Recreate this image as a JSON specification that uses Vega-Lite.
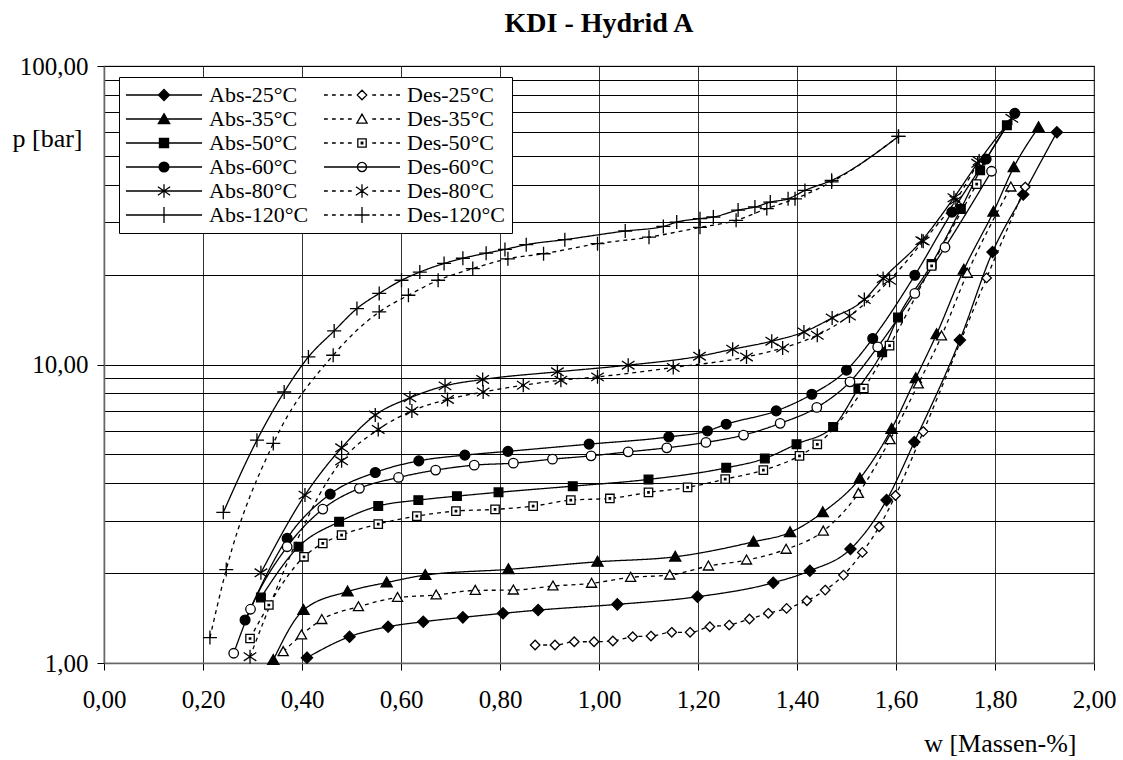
{
"$schema": "https://vega.github.io/schema/vega-lite/v6.json",
"width": 990, "height": 597,
"autosize": {"type": "none"},
"padding": {"left": 104, "top": 66, "right": 29, "bottom": 97},
"title": {"text": "KDI - Hydrid A", "fontSize": 28, "fontWeight": "bold", "font": "Liberation Serif", "frame": "group", "anchor": "middle", "offset": 16, "color": "#000"},
"datasets": {"d": [
{"s":"Abs-25°C","w":0.410,"p":1.042},{"s":"Abs-25°C","w":0.496,"p":1.225},{"s":"Abs-25°C","w":0.574,"p":1.323},{"s":"Abs-25°C","w":0.645,"p":1.375},{"s":"Abs-25°C","w":0.725,"p":1.422},{"s":"Abs-25°C","w":0.806,"p":1.467},{"s":"Abs-25°C","w":0.877,"p":1.504},{"s":"Abs-25°C","w":1.037,"p":1.572},{"s":"Abs-25°C","w":1.199,"p":1.667},{"s":"Abs-25°C","w":1.352,"p":1.857},{"s":"Abs-25°C","w":1.426,"p":2.037},{"s":"Abs-25°C","w":1.508,"p":2.408},{"s":"Abs-25°C","w":1.581,"p":3.513},{"s":"Abs-25°C","w":1.637,"p":5.50},{"s":"Abs-25°C","w":1.729,"p":12.07},{"s":"Abs-25°C","w":1.795,"p":23.8},{"s":"Abs-25°C","w":1.857,"p":37.1},{"s":"Abs-25°C","w":1.925,"p":60.0},
{"s":"Des-25°C","w":0.871,"p":1.149},{"s":"Des-25°C","w":0.911,"p":1.149},{"s":"Des-25°C","w":0.950,"p":1.178},{"s":"Des-25°C","w":0.990,"p":1.178},{"s":"Des-25°C","w":1.028,"p":1.185},{"s":"Des-25°C","w":1.068,"p":1.225},{"s":"Des-25°C","w":1.105,"p":1.231},{"s":"Des-25°C","w":1.147,"p":1.267},{"s":"Des-25°C","w":1.184,"p":1.267},{"s":"Des-25°C","w":1.224,"p":1.323},{"s":"Des-25°C","w":1.263,"p":1.340},{"s":"Des-25°C","w":1.304,"p":1.404},{"s":"Des-25°C","w":1.342,"p":1.467},{"s":"Des-25°C","w":1.379,"p":1.524},{"s":"Des-25°C","w":1.420,"p":1.617},{"s":"Des-25°C","w":1.457,"p":1.755},{"s":"Des-25°C","w":1.494,"p":1.970},{"s":"Des-25°C","w":1.532,"p":2.347},{"s":"Des-25°C","w":1.566,"p":2.86},{"s":"Des-25°C","w":1.599,"p":3.64},{"s":"Des-25°C","w":1.655,"p":5.96},{"s":"Des-25°C","w":1.783,"p":19.5},{"s":"Des-25°C","w":1.861,"p":39.3},
{"s":"Abs-35°C","w":0.342,"p":1.023},{"s":"Abs-35°C","w":0.403,"p":1.504},{"s":"Abs-35°C","w":0.492,"p":1.735},{"s":"Abs-35°C","w":0.571,"p":1.860},{"s":"Abs-35°C","w":0.649,"p":1.970},{"s":"Abs-35°C","w":0.817,"p":2.059},{"s":"Abs-35°C","w":0.997,"p":2.183},{"s":"Abs-35°C","w":1.154,"p":2.269},{"s":"Abs-35°C","w":1.312,"p":2.547},{"s":"Abs-35°C","w":1.386,"p":2.739},{"s":"Abs-35°C","w":1.452,"p":3.196},{"s":"Abs-35°C","w":1.527,"p":4.153},{"s":"Abs-35°C","w":1.591,"p":6.085},{"s":"Abs-35°C","w":1.640,"p":9.00},{"s":"Abs-35°C","w":1.682,"p":12.63},{"s":"Abs-35°C","w":1.737,"p":20.78},{"s":"Abs-35°C","w":1.797,"p":32.5},{"s":"Abs-35°C","w":1.838,"p":45.8},{"s":"Abs-35°C","w":1.888,"p":62.3},
{"s":"Des-35°C","w":0.362,"p":1.091},{"s":"Des-35°C","w":0.399,"p":1.241},{"s":"Des-35°C","w":0.440,"p":1.398},{"s":"Des-35°C","w":0.514,"p":1.543},{"s":"Des-35°C","w":0.593,"p":1.657},{"s":"Des-35°C","w":0.671,"p":1.689},{"s":"Des-35°C","w":0.750,"p":1.751},{"s":"Des-35°C","w":0.827,"p":1.755},{"s":"Des-35°C","w":0.907,"p":1.811},{"s":"Des-35°C","w":0.985,"p":1.849},{"s":"Des-35°C","w":1.064,"p":1.936},{"s":"Des-35°C","w":1.143,"p":1.970},{"s":"Des-35°C","w":1.221,"p":2.112},{"s":"Des-35°C","w":1.298,"p":2.212},{"s":"Des-35°C","w":1.378,"p":2.403},{"s":"Des-35°C","w":1.453,"p":2.766},{"s":"Des-35°C","w":1.524,"p":3.70},{"s":"Des-35°C","w":1.588,"p":5.60},{"s":"Des-35°C","w":1.645,"p":8.60},{"s":"Des-35°C","w":1.692,"p":12.46},{"s":"Des-35°C","w":1.744,"p":20.2},{"s":"Des-35°C","w":1.832,"p":39.3},
{"s":"Abs-50°C","w":0.317,"p":1.657},{"s":"Abs-50°C","w":0.393,"p":2.452},{"s":"Abs-50°C","w":0.475,"p":2.972},{"s":"Abs-50°C","w":0.554,"p":3.355},{"s":"Abs-50°C","w":0.635,"p":3.513},{"s":"Abs-50°C","w":0.713,"p":3.623},{"s":"Abs-50°C","w":0.797,"p":3.731},{"s":"Abs-50°C","w":0.947,"p":3.913},{"s":"Abs-50°C","w":1.100,"p":4.121},{"s":"Abs-50°C","w":1.257,"p":4.506},{"s":"Abs-50°C","w":1.335,"p":4.845},{"s":"Abs-50°C","w":1.399,"p":5.41},{"s":"Abs-50°C","w":1.473,"p":6.18},{"s":"Abs-50°C","w":1.524,"p":8.31},{"s":"Abs-50°C","w":1.572,"p":11.0},{"s":"Abs-50°C","w":1.604,"p":14.37},{"s":"Abs-50°C","w":1.672,"p":21.7},{"s":"Abs-50°C","w":1.731,"p":33.2},{"s":"Abs-50°C","w":1.770,"p":44.7},{"s":"Abs-50°C","w":1.824,"p":63.3},
{"s":"Des-50°C","w":0.295,"p":1.208},{"s":"Des-50°C","w":0.333,"p":1.564},{"s":"Des-50°C","w":0.404,"p":2.269},{"s":"Des-50°C","w":0.442,"p":2.515},{"s":"Des-50°C","w":0.480,"p":2.682},{"s":"Des-50°C","w":0.554,"p":2.920},{"s":"Des-50°C","w":0.632,"p":3.105},{"s":"Des-50°C","w":0.711,"p":3.228},{"s":"Des-50°C","w":0.790,"p":3.270},{"s":"Des-50°C","w":0.867,"p":3.355},{"s":"Des-50°C","w":0.943,"p":3.513},{"s":"Des-50°C","w":1.022,"p":3.559},{"s":"Des-50°C","w":1.100,"p":3.728},{"s":"Des-50°C","w":1.179,"p":3.875},{"s":"Des-50°C","w":1.255,"p":4.130},{"s":"Des-50°C","w":1.332,"p":4.428},{"s":"Des-50°C","w":1.405,"p":4.943},{"s":"Des-50°C","w":1.441,"p":5.40},{"s":"Des-50°C","w":1.535,"p":8.31},{"s":"Des-50°C","w":1.587,"p":11.57},{"s":"Des-50°C","w":1.672,"p":21.4},{"s":"Des-50°C","w":1.763,"p":40.2},
{"s":"Abs-60°C","w":0.285,"p":1.393},{"s":"Abs-60°C","w":0.370,"p":2.615},{"s":"Abs-60°C","w":0.457,"p":3.680},{"s":"Abs-60°C","w":0.548,"p":4.348},{"s":"Abs-60°C","w":0.636,"p":4.756},{"s":"Abs-60°C","w":0.729,"p":4.970},{"s":"Abs-60°C","w":0.816,"p":5.118},{"s":"Abs-60°C","w":0.980,"p":5.41},{"s":"Abs-60°C","w":1.141,"p":5.72},{"s":"Abs-60°C","w":1.219,"p":5.99},{"s":"Abs-60°C","w":1.257,"p":6.31},{"s":"Abs-60°C","w":1.358,"p":6.99},{"s":"Abs-60°C","w":1.430,"p":7.95},{"s":"Abs-60°C","w":1.500,"p":9.57},{"s":"Abs-60°C","w":1.553,"p":12.22},{"s":"Abs-60°C","w":1.638,"p":19.9},{"s":"Abs-60°C","w":1.713,"p":32.4},{"s":"Abs-60°C","w":1.782,"p":48.8},{"s":"Abs-60°C","w":1.840,"p":69.4},
{"s":"Des-60°C","w":0.262,"p":1.078},{"s":"Des-60°C","w":0.296,"p":1.514},{"s":"Des-60°C","w":0.370,"p":2.452},{"s":"Des-60°C","w":0.442,"p":3.278},{"s":"Des-60°C","w":0.516,"p":3.846},{"s":"Des-60°C","w":0.595,"p":4.184},{"s":"Des-60°C","w":0.670,"p":4.428},{"s":"Des-60°C","w":0.748,"p":4.601},{"s":"Des-60°C","w":0.827,"p":4.673},{"s":"Des-60°C","w":0.906,"p":4.819},{"s":"Des-60°C","w":0.984,"p":4.943},{"s":"Des-60°C","w":1.059,"p":5.098},{"s":"Des-60°C","w":1.137,"p":5.258},{"s":"Des-60°C","w":1.216,"p":5.482},{"s":"Des-60°C","w":1.292,"p":5.80},{"s":"Des-60°C","w":1.366,"p":6.35},{"s":"Des-60°C","w":1.440,"p":7.18},{"s":"Des-60°C","w":1.507,"p":8.75},{"s":"Des-60°C","w":1.563,"p":11.45},{"s":"Des-60°C","w":1.638,"p":17.3},{"s":"Des-60°C","w":1.699,"p":24.7},{"s":"Des-60°C","w":1.793,"p":44.4},
{"s":"Abs-80°C","w":0.317,"p":2.005},{"s":"Abs-80°C","w":0.406,"p":3.651},{"s":"Abs-80°C","w":0.480,"p":5.258},{"s":"Abs-80°C","w":0.548,"p":6.77},{"s":"Abs-80°C","w":0.618,"p":7.73},{"s":"Abs-80°C","w":0.689,"p":8.48},{"s":"Abs-80°C","w":0.765,"p":8.91},{"s":"Abs-80°C","w":0.916,"p":9.45},{"s":"Abs-80°C","w":1.059,"p":9.95},{"s":"Abs-80°C","w":1.203,"p":10.66},{"s":"Abs-80°C","w":1.270,"p":11.25},{"s":"Abs-80°C","w":1.349,"p":11.97},{"s":"Abs-80°C","w":1.414,"p":12.86},{"s":"Abs-80°C","w":1.471,"p":14.32},{"s":"Abs-80°C","w":1.536,"p":16.5},{"s":"Abs-80°C","w":1.574,"p":19.4},{"s":"Abs-80°C","w":1.652,"p":26.0},{"s":"Abs-80°C","w":1.717,"p":36.2},{"s":"Abs-80°C","w":1.768,"p":48.1},{"s":"Abs-80°C","w":1.834,"p":66.8},
{"s":"Des-80°C","w":0.295,"p":1.05},{"s":"Des-80°C","w":0.480,"p":4.756},{"s":"Des-80°C","w":0.554,"p":6.06},{"s":"Des-80°C","w":0.622,"p":6.99},{"s":"Des-80°C","w":0.694,"p":7.64},{"s":"Des-80°C","w":0.766,"p":8.09},{"s":"Des-80°C","w":0.847,"p":8.52},{"s":"Des-80°C","w":0.923,"p":8.86},{"s":"Des-80°C","w":0.997,"p":9.09},{"s":"Des-80°C","w":1.150,"p":9.77},{"s":"Des-80°C","w":1.298,"p":10.6},{"s":"Des-80°C","w":1.371,"p":11.36},{"s":"Des-80°C","w":1.441,"p":12.53},{"s":"Des-80°C","w":1.506,"p":14.54},{"s":"Des-80°C","w":1.587,"p":19.15},{"s":"Des-80°C","w":1.655,"p":25.9},{"s":"Des-80°C","w":1.721,"p":35.5},{"s":"Des-80°C","w":1.765,"p":47.2},
{"s":"Abs-120°C","w":0.241,"p":3.196},{"s":"Abs-120°C","w":0.309,"p":5.58},{"s":"Abs-120°C","w":0.364,"p":8.09},{"s":"Abs-120°C","w":0.413,"p":10.6},{"s":"Abs-120°C","w":0.465,"p":12.96},{"s":"Abs-120°C","w":0.511,"p":15.4},{"s":"Abs-120°C","w":0.556,"p":17.3},{"s":"Abs-120°C","w":0.601,"p":19.15},{"s":"Abs-120°C","w":0.638,"p":20.4},{"s":"Abs-120°C","w":0.687,"p":21.8},{"s":"Abs-120°C","w":0.725,"p":22.7},{"s":"Abs-120°C","w":0.772,"p":23.6},{"s":"Abs-120°C","w":0.810,"p":24.3},{"s":"Abs-120°C","w":0.853,"p":25.2},{"s":"Abs-120°C","w":0.931,"p":26.2},{"s":"Abs-120°C","w":1.053,"p":28.0},{"s":"Abs-120°C","w":1.130,"p":29.0},{"s":"Abs-120°C","w":1.157,"p":30.0},{"s":"Abs-120°C","w":1.204,"p":30.8},{"s":"Abs-120°C","w":1.231,"p":31.2},{"s":"Abs-120°C","w":1.281,"p":32.9},{"s":"Abs-120°C","w":1.315,"p":33.7},{"s":"Abs-120°C","w":1.346,"p":35.0},{"s":"Abs-120°C","w":1.382,"p":35.9},{"s":"Abs-120°C","w":1.416,"p":38.3},{"s":"Abs-120°C","w":1.470,"p":41.4},{"s":"Abs-120°C","w":1.605,"p":58.1},
{"s":"Des-120°C","w":0.214,"p":1.217},{"s":"Des-120°C","w":0.247,"p":2.056},{"s":"Des-120°C","w":0.342,"p":5.44},{"s":"Des-120°C","w":0.463,"p":10.74},{"s":"Des-120°C","w":0.556,"p":15.0},{"s":"Des-120°C","w":0.615,"p":17.06},{"s":"Des-120°C","w":0.675,"p":19.15},{"s":"Des-120°C","w":0.745,"p":20.96},{"s":"Des-120°C","w":0.816,"p":22.6},{"s":"Des-120°C","w":0.888,"p":23.5},{"s":"Des-120°C","w":0.997,"p":25.4},{"s":"Des-120°C","w":1.101,"p":26.7},{"s":"Des-120°C","w":1.204,"p":28.8},{"s":"Des-120°C","w":1.277,"p":30.4},{"s":"Des-120°C","w":1.339,"p":33.3},{"s":"Des-120°C","w":1.396,"p":35.9},{"s":"Des-120°C","w":1.470,"p":40.9},{"s":"Des-120°C","w":1.605,"p":58.1}
]},
"data": {"name": "d"},
"encoding": {
  "x": {"field": "w", "type": "quantitative",
    "scale": {"domain": [0, 2], "nice": false, "zero": false},
    "axis": {"values": [0, 0.2, 0.4, 0.6, 0.8, 1.0, 1.2, 1.4, 1.6, 1.8, 2.0],
      "labelExpr": "replace(format(datum.value, '.2f'), '.', ',')",
      "title": "w [Massen-%]", "titleAlign": "right", "titleAnchor": "end", "titleX": 972, "titleY": 88, "titleBaseline": "alphabetic",
      "tickSize": 7, "labelPadding": 17, "grid": true, "gridColor": "#333", "labelFlush": false, "labelOverlap": false}},
  "y": {"field": "p", "type": "quantitative",
    "scale": {"type": "log", "domain": [1, 100], "nice": false},
    "axis": {"values": [1, 2, 3, 4, 5, 6, 7, 8, 9, 10, 20, 30, 40, 50, 60, 70, 80, 90, 100],
      "labelExpr": "(datum.value == 1 || datum.value == 10 || datum.value == 100) ? replace(format(datum.value, '.2f'), '.', ',') : ''",
      "tickOpacity": {"condition": {"test": "datum.value == 1 || datum.value == 10 || datum.value == 100", "value": 1}, "value": 0},
      "title": "p [bar]", "titleAngle": 0, "titleAlign": "left", "titleBaseline": "middle", "titleX": -92, "titleY": 72,
      "tickSize": 7, "labelPadding": 9, "grid": true, "gridColor": "#000", "labelFlush": false, "labelOverlap": false}}
},
"layer": [
  {"mark": {"type": "line", "interpolate": "monotone", "stroke": "#000", "strokeWidth": 1.3},
   "encoding": {
     "strokeDash": {"field": "s", "type": "nominal", "legend": null,
       "scale": {"domain": ["Abs-25°C","Abs-35°C","Abs-50°C","Abs-60°C","Abs-80°C","Abs-120°C","Des-25°C","Des-35°C","Des-50°C","Des-60°C","Des-80°C","Des-120°C"],
                 "range": [[1,0],[1,0],[1,0],[1,0],[1,0],[1,0],[4,4],[4,4],[4,4],[1,0],[4,4],[4,4]]}}}},
  {"mark": {"type": "point", "stroke": "#000", "strokeWidth": 1.3, "size": 196, "opacity": 1, "fillOpacity": 1},
   "encoding": {
     "shape": {"field": "s", "type": "nominal", "legend": null,
       "scale": {"domain": ["Abs-25°C","Abs-35°C","Abs-50°C","Abs-60°C","Abs-80°C","Abs-120°C","Des-25°C","Des-35°C","Des-50°C","Des-60°C","Des-80°C","Des-120°C"],
                 "range": ["M0,-0.8L0.8,0L0,0.8L-0.8,0Z",
                           "M0,-0.78L0.8,0.62L-0.8,0.62Z",
                           "M-0.62,-0.62H0.62V0.62H-0.62Z",
                           "M0.7,0A0.7,0.7,0,1,1,-0.7,0A0.7,0.7,0,1,1,0.7,0Z",
                           "M0,-1V1M-0.9,-0.6L0.9,0.6M-0.9,0.6L0.9,-0.6",
                           "M-1,0H1M0,-1V1",
                           "M0,-0.68L0.68,0L0,0.68L-0.68,0Z",
                           "M0,-0.72L0.72,0.56L-0.72,0.56Z",
                           "M-0.6,-0.6H0.6V0.6H-0.6ZM-0.1,-0.1H0.1V0.1H-0.1Z",
                           "M0.68,0A0.68,0.68,0,1,1,-0.68,0A0.68,0.68,0,1,1,0.68,0Z",
                           "M0,-1V1M-0.9,-0.6L0.9,0.6M-0.9,0.6L0.9,-0.6",
                           "M-1,0H1M0,-1V1"]}},
     "fill": {"field": "s", "type": "nominal", "legend": null,
       "scale": {"domain": ["Abs-25°C","Abs-35°C","Abs-50°C","Abs-60°C","Abs-80°C","Abs-120°C","Des-25°C","Des-35°C","Des-50°C","Des-60°C","Des-80°C","Des-120°C"],
                 "range": ["#000","#000","#000","#000","#fff","#fff","#fff","#fff","#fff","#fff","#fff","#fff"]}}}},
  {"mark": {"type": "point", "stroke": "#000", "strokeWidth": 1.3, "opacity": 0},
   "encoding": {
     "shape": {"field": "s", "type": "nominal",
       "scale": {"domain": ["Abs-25°C","Abs-35°C","Abs-50°C","Abs-60°C","Abs-80°C","Abs-120°C","Des-25°C","Des-35°C","Des-50°C","Des-60°C","Des-80°C","Des-120°C"],
                 "range": ["M-1,0H1M0,-0.145L0.145,0L0,0.145L-0.145,0Z",
                           "M-1,0H1M0,-0.14L0.15,0.12L-0.15,0.12Z",
                           "M-1,0H1M-0.12,-0.12H0.12V0.12H-0.12Z",
                           "M-1,0H1M0.13,0A0.13,0.13,0,1,1,-0.13,0A0.13,0.13,0,1,1,0.13,0Z",
                           "M-1,0H1M0,-0.18V0.18M-0.16,-0.11L0.16,0.11M-0.16,0.11L0.16,-0.11",
                           "M-1,0H1M0,-0.21V0.21",
                           "M-1,0H-0.9M-0.79,0H-0.69M-0.58,0H-0.48M-0.37,0H-0.27M0.27,0H0.37M0.48,0H0.58M0.69,0H0.79M0.9,0H1M0,-0.125L0.125,0L0,0.125L-0.125,0Z",
                           "M-1,0H-0.9M-0.79,0H-0.69M-0.58,0H-0.48M-0.37,0H-0.27M0.27,0H0.37M0.48,0H0.58M0.69,0H0.79M0.9,0H1M0,-0.13L0.135,0.11L-0.135,0.11Z",
                           "M-1,0H-0.9M-0.79,0H-0.69M-0.58,0H-0.48M-0.37,0H-0.27M0.27,0H0.37M0.48,0H0.58M0.69,0H0.79M0.9,0H1M-0.11,-0.11H0.11V0.11H-0.11ZM-0.02,-0.02H0.02V0.02H-0.02Z",
                           "M-1,0H1M0.12,0A0.12,0.12,0,1,1,-0.12,0A0.12,0.12,0,1,1,0.12,0Z",
                           "M-1,0H-0.9M-0.79,0H-0.69M-0.58,0H-0.48M-0.37,0H-0.27M0.27,0H0.37M0.48,0H0.58M0.69,0H0.79M0.9,0H1M0,-0.18V0.18M-0.16,-0.11L0.16,0.11M-0.16,0.11L0.16,-0.11",
                           "M-1,0H-0.9M-0.79,0H-0.69M-0.58,0H-0.48M-0.37,0H-0.27M0.27,0H0.37M0.48,0H0.58M0.69,0H0.79M0.9,0H1M-0.2,0H0.2M0,-0.21V0.21"]},
       "legend": {"title": null, "orient": "none", "legendX": 15, "legendY": 11, "columns": 2, "columnPadding": 14, "rowPadding": 0, "clipHeight": 24, "padding": 6, "strokeColor": "#000", "fillColor": "#fff", "labelFont": "Liberation Serif", "labelFontSize": 22, "labelColor": "#000", "labelOffset": 6, "labelLimit": 0, "symbolSize": 5776, "symbolStrokeColor": "#000", "symbolStrokeWidth": 1.3, "symbolOpacity": 1}},
     "fill": {"field": "s", "type": "nominal",
       "scale": {"domain": ["Abs-25°C","Abs-35°C","Abs-50°C","Abs-60°C","Abs-80°C","Abs-120°C","Des-25°C","Des-35°C","Des-50°C","Des-60°C","Des-80°C","Des-120°C"],
                 "range": ["#000","#000","#000","#000","#fff","#fff","#fff","#fff","#fff","#fff","#fff","#fff"]},
       "legend": {"title": null, "orient": "none", "legendX": 15, "legendY": 11, "columns": 2, "columnPadding": 14, "rowPadding": 0, "clipHeight": 24, "padding": 6, "strokeColor": "#000", "fillColor": "#fff", "labelFont": "Liberation Serif", "labelFontSize": 22, "labelColor": "#000", "labelOffset": 6, "labelLimit": 0, "symbolSize": 5776, "symbolStrokeColor": "#000", "symbolStrokeWidth": 1.3, "symbolOpacity": 1}},
     "stroke": {"field": "s", "type": "nominal",
       "scale": {"domain": ["Abs-25°C","Abs-35°C","Abs-50°C","Abs-60°C","Abs-80°C","Abs-120°C","Des-25°C","Des-35°C","Des-50°C","Des-60°C","Des-80°C","Des-120°C"],
                 "range": ["#000","#000","#000","#000","#000","#000","#000","#000","#000","#000","#000","#000"]},
       "legend": {"title": null, "orient": "none", "legendX": 15, "legendY": 11, "columns": 2, "columnPadding": 14, "rowPadding": 0, "clipHeight": 24, "padding": 6, "strokeColor": "#000", "fillColor": "#fff", "labelFont": "Liberation Serif", "labelFontSize": 22, "labelColor": "#000", "labelOffset": 6, "labelLimit": 0, "symbolSize": 5776, "symbolStrokeColor": "#000", "symbolStrokeWidth": 1.3, "symbolOpacity": 1}}}}
],
"resolve": {"scale": {"shape": "independent", "fill": "independent", "stroke": "independent"}, "legend": {"shape": "independent", "fill": "independent", "stroke": "independent"}},
"config": {
  "view": {"stroke": "#555", "strokeWidth": 1.2},
  "axis": {"labelFont": "Liberation Serif", "titleFont": "Liberation Serif", "labelFontSize": 25, "titleFontSize": 26, "titleFontWeight": "normal", "labelColor": "#000", "titleColor": "#000", "domainColor": "#666", "domainWidth": 1.5, "tickColor": "#000", "gridWidth": 1}
}
}
